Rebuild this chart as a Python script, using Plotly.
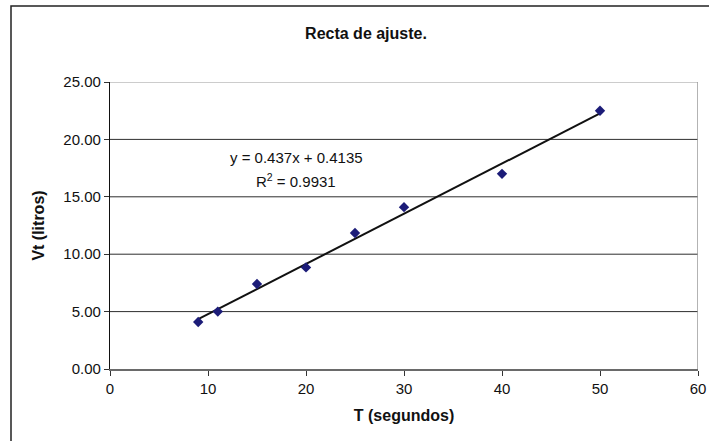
import plotly.graph_objects as go

# Measured data: time (s) vs volume (litres)
tiempo = [9, 11, 15, 20, 25, 30, 40, 50]
volumen = [4.1, 5.0, 7.4, 8.85, 11.85, 14.1, 17.0, 22.5]

# Linear fit coefficients (as reported on the chart)
pendiente = 0.437
ordenada = 0.4135
r2 = 0.9931

y_ticks = [0, 5, 10, 15, 20, 25]
x_ticks = [0, 10, 20, 30, 40, 50, 60]

FONT = "Liberation Sans, Arial, sans-serif"

x_fit = [min(tiempo), max(tiempo)]
y_fit = [pendiente * x + ordenada for x in x_fit]

fig = go.Figure()

fig.add_trace(go.Scatter(
    x=x_fit, y=y_fit, mode="lines",
    line=dict(color="#111111", width=2),
    hoverinfo="skip", showlegend=False,
))
fig.add_trace(go.Scatter(
    x=tiempo, y=volumen, mode="markers",
    marker=dict(symbol="diamond", size=8, color="#1c1c78"),
    showlegend=False,
))

shapes = []
# horizontal gridlines
for v in y_ticks[1:]:
    shapes.append(dict(
        type="line", xref="x", yref="y", x0=0, x1=60, y0=v, y1=v,
        line=dict(color="#9a9a9a" if v == y_ticks[-1] else "#2e2e2e", width=1),
        layer="below",
    ))
# right edge of plot area
shapes.append(dict(
    type="line", xref="x", yref="y", x0=60, x1=60, y0=0, y1=25,
    line=dict(color="#9a9a9a", width=1.5), layer="below",
))
# outer chart frame
shapes.append(dict(
    type="rect", xref="paper", yref="paper",
    x0=-99 / 588, x1=1.2, y0=-0.5, y1=(369 - 6) / 287,
    line=dict(color="#222222", width=1.5), fillcolor="rgba(0,0,0,0)",
))

label_font = dict(size=15, family=FONT, color="#111111")

fig.update_layout(
    width=709, height=441,
    margin=dict(l=110, r=11, t=82, b=72, autoexpand=False),
    paper_bgcolor="white", plot_bgcolor="white",
    font=dict(family=FONT, color="#111111"),
    title=dict(
        text="<b>Recta de ajuste.</b>",
        x=(366 - 110) / 588, xref="paper", xanchor="center",
        y=1 - 33 / 441, yanchor="middle",
        font=dict(size=16, family=FONT, color="#111111"),
    ),
    shapes=shapes,
    annotations=[
        dict(
            text=f"y = {pendiente}x + {ordenada}",
            x=19.0, y=18.45, xref="x", yref="y",
            showarrow=False, font=label_font,
        ),
        dict(
            text=f"R<sup>2</sup> = {r2}",
            x=19.0, y=16.45, xref="x", yref="y",
            showarrow=False, font=label_font,
        ),
    ],
)

fig.update_xaxes(
    range=[0, 60], tickvals=x_ticks, ticktext=[str(v) for v in x_ticks],
    showgrid=False, zeroline=False, automargin=False,
    showline=True, linecolor="#6a6a6a", linewidth=1.5,
    ticks="outside", ticklen=5, tickcolor="#333333",
    tickfont=dict(size=15, family=FONT, color="#111111"),
    title=dict(text="<b>T (segundos)</b>", standoff=14,
               font=dict(size=16, family=FONT, color="#111111")),
)
fig.update_yaxes(
    range=[0, 25], tickvals=y_ticks, tickformat=".2f",
    showgrid=False, zeroline=False, automargin=False,
    showline=True, linecolor="#111111", linewidth=1.2,
    ticks="outside", ticklen=5, tickcolor="#333333",
    tickfont=dict(size=15, family=FONT, color="#111111"),
    title=dict(text="<b>Vt (litros)</b>", standoff=14,
               font=dict(size=16, family=FONT, color="#111111")),
)

fig.write_html("out.html")
